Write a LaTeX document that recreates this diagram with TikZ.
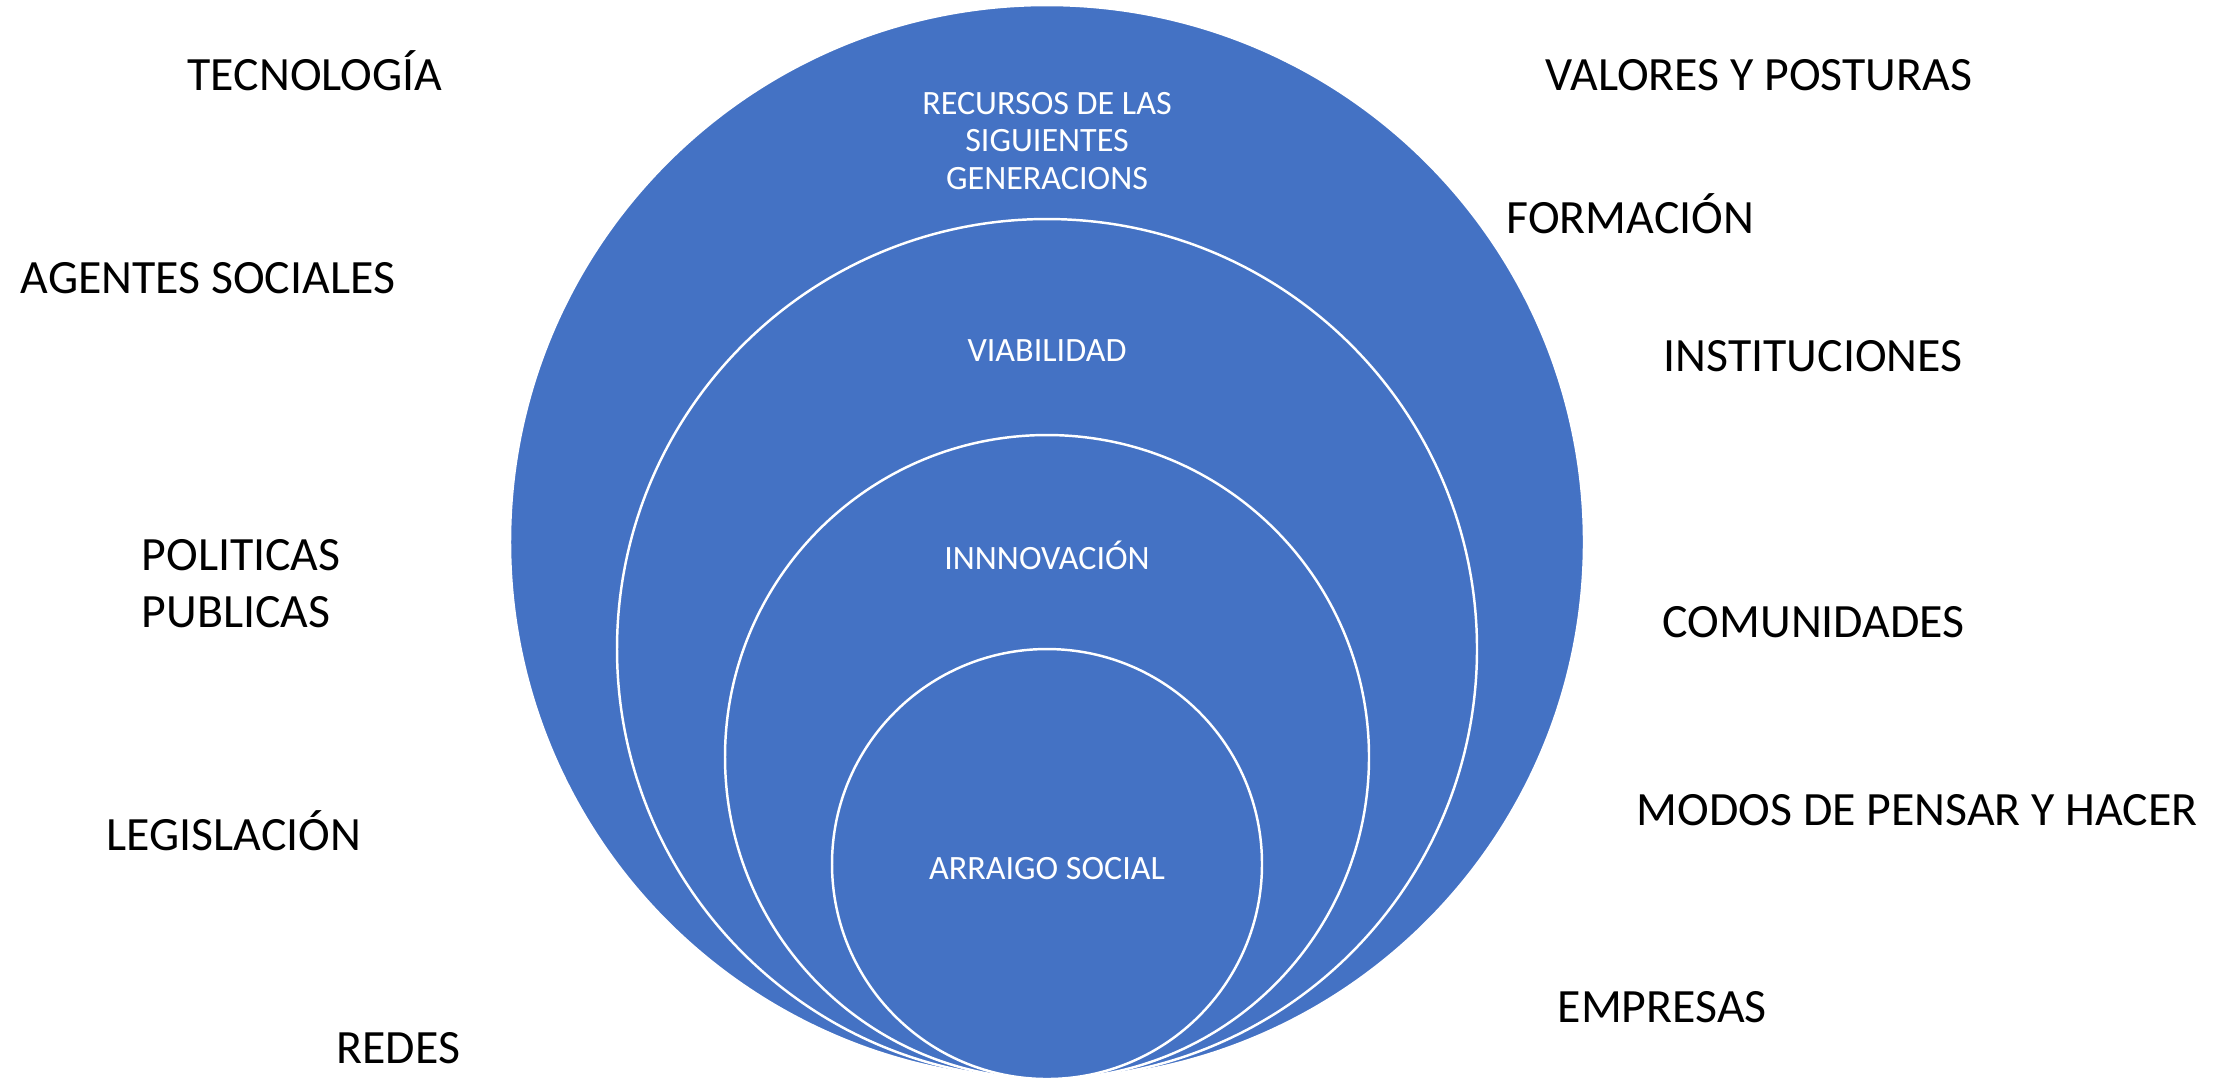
\documentclass[tikz,border=0pt]{standalone}
\usepackage{fontspec}
\setmainfont{Carlito}
\usepackage{tikz}
\definecolor{azul}{HTML}{4472C4}

\begin{document}
\begin{tikzpicture}[x=0.1mm,y=-0.1mm,
    etiqueta/.style={anchor=base west,inner sep=0pt,font=\fontsize{13.6}{16.2}\selectfont},
    blanco/.style={text=white,align=center,inner sep=0pt,font=\fontsize{9.7}{10.6}\selectfont},
    anillo/.style={fill=azul,draw=white,line width=0.7pt}]
    \useasboundingbox (0,0) rectangle (2227,1080); %marco

    %circulos, todos tocan abajo
    \draw[anillo] (1047,542) circle[radius=53.7mm]; %circulo 1
    \draw[anillo] (1047,649) circle[radius=43.0mm]; %circulo 2
    \draw[anillo] (1047,757) circle[radius=32.2mm]; %circulo 3
    \draw[anillo] (1047,864) circle[radius=21.5mm]; %circulo 4

    %textos de adentro
    \node[blanco] (recursos) at (1047,141) {RECURSOS DE LAS\\SIGUIENTES\\GENERACIONS}; %circulo 1
    \node[blanco,anchor=base] (viab) at (1047,361) {VIABILIDAD}; %circulo 2
    \node[blanco,anchor=base] (innov) at (1047,569) {INNNOVACIÓN}; %circulo 3
    \node[blanco,anchor=base] (arraigo) at (1047,879) {ARRAIGO SOCIAL}; %circulo 4

    %lado izquierdo
    \node[etiqueta] (tec) at (187,90) {TECNOLOGÍA};
    \node[etiqueta] (agentes) at (20,293) {AGENTES SOCIALES};
    \node[etiqueta] (politicas) at (141,570) {POLITICAS};
    \node[etiqueta] (publicas) at (141,627) {PUBLICAS};
    \node[etiqueta] (legis) at (106,850) {LEGISLACIÓN};
    \node[etiqueta] (redes) at (336,1063) {REDES};

    %lado derecho
    \node[etiqueta] (valores) at (1545,90) {VALORES Y POSTURAS};
    \node[etiqueta] (formacion) at (1506,233) {FORMACIÓN};
    \node[etiqueta] (instituc) at (1663,371) {INSTITUCIONES};
    \node[etiqueta] (comunid) at (1662,637) {COMUNIDADES};
    \node[etiqueta] (modos) at (1636,825) {MODOS DE PENSAR Y HACER};
    \node[etiqueta] (empresas) at (1557,1022) {EMPRESAS};
\end{tikzpicture}
\end{document}
